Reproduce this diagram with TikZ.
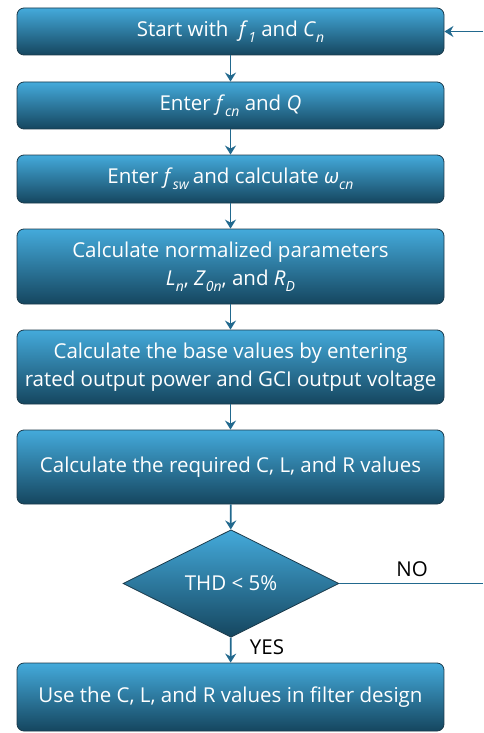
\documentclass[tikz,border=0pt]{standalone}
\usepackage{fontspec}
\setmainfont{Open Sans}
\usetikzlibrary{shapes.geometric}
\usetikzlibrary{arrows.meta}
\definecolor{boxtop}{HTML}{44AADB}
\definecolor{boxbot}{HTML}{15465F}
\definecolor{boxrim}{HTML}{1B3A4B}
\definecolor{flowline}{HTML}{22698E}
\newcommand{\sym}[2] % symbol, subscript
{\textit{#1}\raisebox{-0.55ex}{\fontsize{14}{14}\selectfont\textit{#2}}}

\tikzset{
	stepbox/.style={rectangle, rounded corners=7pt, draw=boxrim, line width=0.8pt,
		top color=boxtop, bottom color=boxbot, text=white, align=center,
		minimum width=427pt, inner sep=0pt,
		font=\fontsize{20.5}{28}\selectfont},
	decbox/.style={diamond, draw=boxrim, line width=0.8pt,
		top color=boxtop, bottom color=boxbot, text=white, inner sep=0pt,
		minimum width=216pt, minimum height=103pt,
		font=\fontsize{20.5}{28}\selectfont},
	flow/.style={draw=flowline, line width=1.8pt, -{Stealth[length=9pt,width=11pt,inset=3pt]}},
	plain/.style={draw=flowline, line width=1.8pt},
	tag/.style={font=\fontsize{20.5}{24}\selectfont, text=black}
}

\begin{document}
\begin{tikzpicture}[x=1pt,y=-1pt]
	% page: 483 x 733
	\useasboundingbox (0,0) rectangle (483,733);
	
	% steps
	\node[stepbox, minimum height=47pt] (start) at (230.5,31.5) {Start with \ \sym{f}{1} and \sym{C}{n}};
	\node[stepbox, minimum height=47pt] (fcn) at (230.5,105.5) {Enter \sym{f}{cn} and \textit{Q}};
	\node[stepbox, minimum height=48pt] (fsw) at (230.5,179) {Enter \sym{f}{sw}\,and calculate \sym{ω}{cn}};
	\node[stepbox, minimum height=75pt] (norm) at (230.5,266.5) {Calculate normalized parameters\\ \sym{L}{n}, \sym{Z}{0n}, and \sym{R}{D}};
	\node[stepbox, minimum height=74pt] (base) at (230.5,367) {Calculate the base values by entering\\ rated output power and GCI output voltage};
	\node[stepbox, minimum height=74pt] (clr) at (230.5,467) {Calculate the required C, L, and R values};
	\node[decbox] (thd) at (231,583.5) {THD < 5\%};
	\node[stepbox, minimum height=68pt] (use) at (230.5,697) {Use the C, L, and R values in filter design};
	
	% loose ends at the right margin
	\coordinate (back) at (483,31.5);
	\coordinate (fail) at (483,583.5);
	
	% connectors
	\draw[flow] (start) -- (fcn);
	\draw[flow] (fcn) -- (fsw);
	\draw[flow] (fsw) -- (norm);
	\draw[flow] (norm) -- (base);
	\draw[flow] (base) -- (clr);
	\draw[flow] (clr) -- (thd);
	\draw[flow] (thd) -- (use);
	\draw[plain] (thd.east) -- (fail);
	\draw[flow] (back) -- (start.east);
	
	\node[tag] (no) at (412,569) {NO};
	\node[tag] (yes) at (267,647) {YES};
\end{tikzpicture}
\end{document}
